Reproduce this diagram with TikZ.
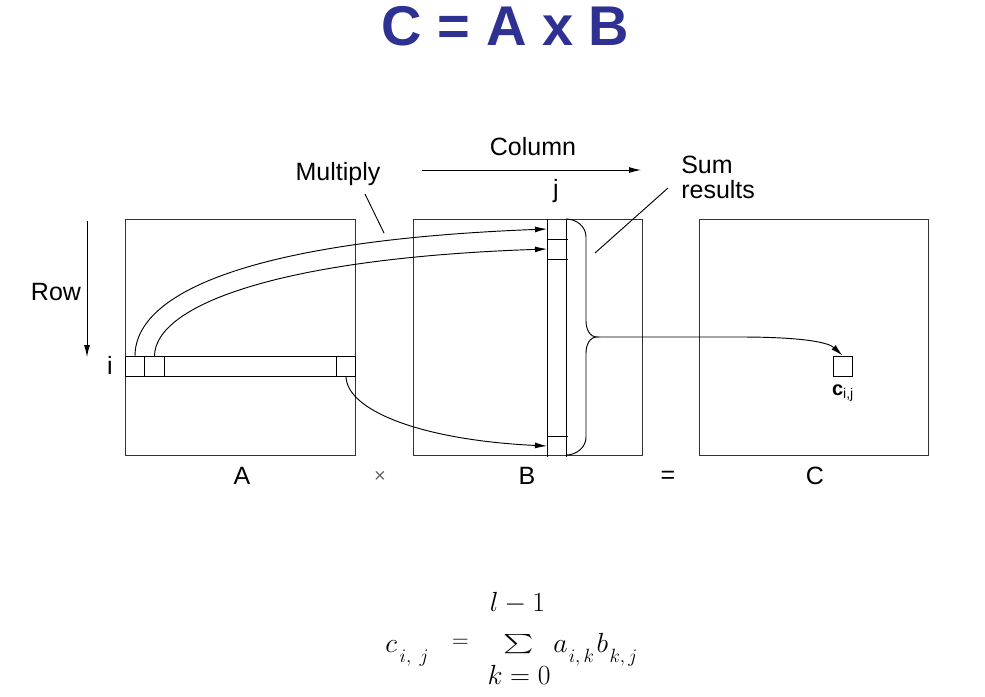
\documentclass[tikz,border=0pt]{standalone}
\usepackage{exscale}
\usepackage{fontspec}
\usepackage{graphicx}
\setmainfont{Liberation Sans}
\usetikzlibrary{arrows.meta}
\definecolor{titleblue}{RGB}{46,49,146}
\newcommand{\lowsub}[1]{\lower7.5pt\hbox{\fontsize{14.4}{16}\selectfont$#1$}}
\begin{document}
\begin{tikzpicture}[x=0.75pt,y=-0.75pt,
  mat/.style={draw=black!80, line width=0.9pt, inner sep=0pt, anchor=north west},
  thin/.style={draw=black, line width=0.7pt},
  arr/.style={-{Latex[length=9pt,width=4.5pt]}},
  lbl/.style={font=\fontsize{18.75}{22}\selectfont, inner sep=0pt},
  mth/.style={font=\fontsize{20.74}{24}\selectfont, inner sep=0pt},
]
\useasboundingbox (0,0) rectangle (985,696);

% title
\node[font=\fontsize{42}{48}\selectfont\bfseries, text=titleblue, inner sep=0pt, anchor=base] (title) at (505.5,45) {C = A x B};

% matrices
\node[mat, minimum width=172.5pt, minimum height=177pt] (A) at (125,219) {};
\node[mat, minimum width=171.75pt, minimum height=177pt] (B) at (413,219) {};
\node[mat, minimum width=171.75pt, minimum height=177pt] (C) at (699,219) {};

% row strip in A
\draw[thin] (125,356) rectangle (355,376);
\foreach \x in {144,164,336} \draw[thin] (\x,356) -- (\x,376);

% column strip in B
\draw[thin] (547,219) -- (547,457) (566,219) -- (566,457);
\foreach \y in {239,259,436} \draw[thin] (547,\y) -- (568,\y);

% connectors from A row to B column
\coordinate (r1) at (135,356);
\coordinate (r2) at (154.5,356);
\coordinate (r3) at (346,376);
\coordinate (b1) at (547,229);
\coordinate (b2) at (547,249);
\coordinate (b3) at (547,446);
\draw[thin,arr] (r1) .. controls (135,290) and (260,240) .. (b1);
\draw[thin,arr] (r2) .. controls (155,305) and (280,258) .. (b2);
\draw[thin,arr] (r3) .. controls (346,410) and (420,440) .. (b3);

% brace
\coordinate (tip) at (597,337);
\draw[thin] (566,219) to[out=0,in=90] (586,237) -- (586,321) to[out=-90,in=180] (tip)
  to[out=180,in=90] (586,353) -- (586,437) to[out=-90,in=0] (566,455);

% result cell in C
\node[draw=black, line width=0.7pt, minimum width=14.25pt, minimum height=15pt, inner sep=0pt] (cij) at (842.5,366) {};
\node[font=\fontsize{15}{18}\selectfont, inner sep=0pt, anchor=base] (cijlbl) at (843,395) {\textbf{c}\textsubscript{i,j}};
\draw[thin,arr] (tip) -- (740,337) .. controls (800,337) and (828,342) .. (cij.north);

% labels and pointers
\node[lbl, anchor=base] (column) at (533,155) {Column};
\coordinate (colS) at (422,170);
\coordinate (colE) at (641,170);
\draw[thin,arr] (colS) -- (colE);

\node[lbl, anchor=base] (multiply) at (338,180) {Multiply};
\coordinate (mulE) at (384,233);
\draw[thin] (365,194) -- (mulE);

\node[lbl, anchor=base west] (sum) at (681,173) {Sum};
\node[lbl, anchor=base west] (results) at (681,198) {results};
\coordinate (sumE) at (595,253);
\draw[thin] (668,188) -- (sumE);

\node[lbl] (row) at (56,292) {Row};
\coordinate (rowS) at (87,221);
\coordinate (rowE) at (87,357);
\draw[thin,arr] (rowS) -- (rowE);

\node[lbl] (ilbl) at (110,365) {i};
\node[lbl] (jlbl) at (556,191) {j};

\node[lbl, anchor=base] (Albl) at (242,484) {A};
\node[font=\fontsize{15}{18}\selectfont, text=black!60, inner sep=0pt] (times) at (380,477) {×};
\node[lbl, anchor=base] (Blbl) at (527,484) {B};
\node[lbl] (eq) at (668,477) {=};
\node[lbl, anchor=base] (Clbl) at (815,484) {C};

% formula
\node[mth, anchor=base west] (fc) at (385,652) {$c$\kern2pt\lowsub{i,\;j}};
\node[font=\fontsize{17}{20}\selectfont, inner sep=0pt] (feq) at (460.5,643) {$=$};
\node[inner sep=0pt, font=\fontsize{14}{16}\selectfont] (fsum) at (519,644) {\scalebox{1.5}[1]{$\textstyle\sum$}};
\node[mth] (fup) at (517.5,603) {$l-1$};
\node[mth] (flow) at (519,675) {$k=0$};
\node[mth, anchor=base west] (fab) at (553,652) {$a$\kern1pt\lowsub{i,k}\kern2pt$b$\kern1pt\lowsub{k,j}};
\end{tikzpicture}
\end{document}
